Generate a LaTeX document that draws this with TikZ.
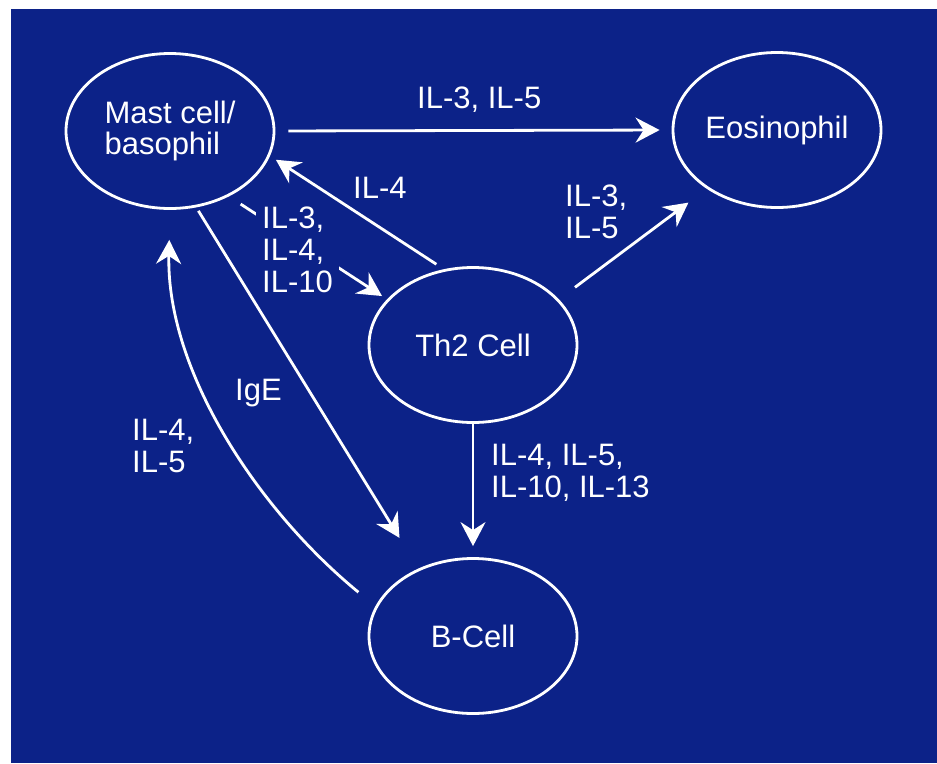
\documentclass[tikz,border=0pt]{standalone}
\usepackage{fontspec}
\setmainfont{Liberation Sans}
\usetikzlibrary{arrows.meta,shapes.geometric}
\definecolor{bgblue}{RGB}{12,34,136}
\newcommand\lblfont{\fontsize{31}{31.7}\selectfont}
\begin{document}
\begin{tikzpicture}[x=1pt,y=-1pt,
  cell/.style={draw=white, line width=2.8pt, ellipse, minimum width=208pt, minimum height=155pt,
    inner sep=0pt, text=white, font=\lblfont, align=center},
  conn/.style={draw=white, line width=2.8pt, -{Stealth[length=24pt,width=25pt,inset=8pt]}},
  lbl/.style={text=white, font=\lblfont, align=left, inner sep=0pt}
]
\fill[white] (0,0) rectangle (937,763);
\fill[bgblue] (11,9) rectangle (937,763);
\useasboundingbox (0,0) rectangle (937,763);

\node[cell, align=left] (mast) at (170,131) {Mast cell/\\basophil};
\node[cell] (eos) at (777,130) {Eosinophil};
\node[cell] (th2) at (473,345) {Th2 Cell};
\node[cell] (bcell) at (473,636) {B-Cell};

\draw[conn, shorten <=13pt, shorten >=12pt] (mast.east) -- (eos.west);
\draw[conn, shorten <=9pt, shorten >=7pt] (th2.111.7) -- (mast.-14.4);
\draw[conn, shorten <=14pt, shorten >=6pt] (mast.-48.6) -- (th2.152.9);
\draw[conn, shorten <=20pt, shorten >=23pt] (th2.28.1) -- (eos.220);
\draw[conn, shorten <=4pt, shorten >=36pt] (mast.-71.35) -- (bcell.129.4);
\draw[conn, shorten <=0pt, shorten >=11pt] (th2.south) -- (bcell.north);
\draw[conn, shorten <=22pt, shorten >=30pt] (bcell.163.5) .. controls (257,509) and (166,370) .. (mast.south);

\node[lbl, anchor=base west] (l1) at (417,108) {IL-3, IL-5};
\node[lbl, anchor=base west] (l2) at (353,198) {IL-4};
\node[lbl, anchor=base west, fill=bgblue, inner xsep=6pt, inner ysep=2pt] (l3) at (256,292) {IL-3,\\IL-4,\\IL-10};
\node[lbl, anchor=base west] (l4) at (565,238) {IL-3,\\IL-5};
\node[lbl, anchor=base west] (l5) at (235,400) {IgE};
\node[lbl, anchor=base west] (l6) at (132,472) {IL-4,\\IL-5};
\node[lbl, anchor=base west] (l7) at (491,497) {IL-4, IL-5,\\IL-10, IL-13};
\end{tikzpicture}
\end{document}
